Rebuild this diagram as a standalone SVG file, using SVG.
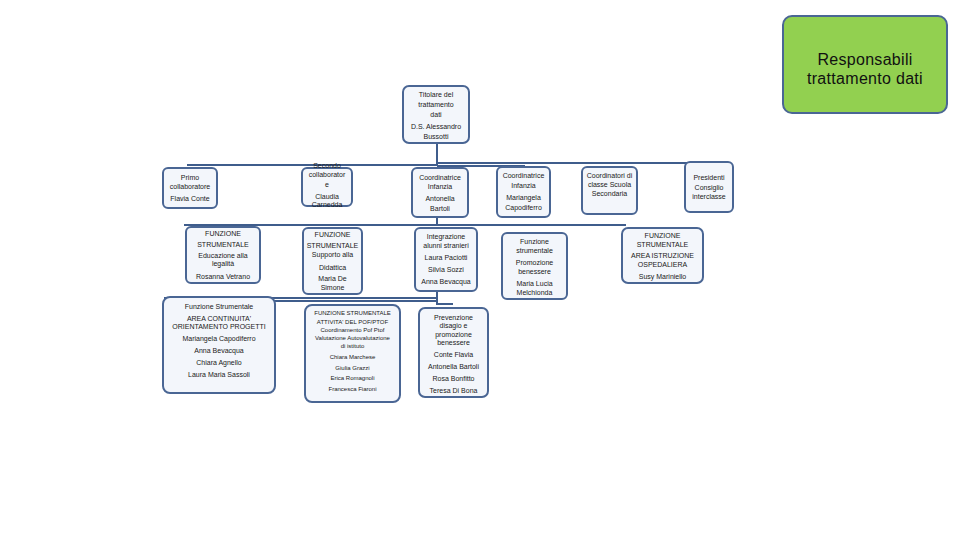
<svg xmlns="http://www.w3.org/2000/svg" width="960" height="540" viewBox="0 0 960 540">
<style>
.box{fill:#f3f6fb;stroke:#4a6694;stroke-width:2}
.t{font-family:"Liberation Sans",Arial,sans-serif;font-size:7px;fill:#1a1a1a;text-anchor:middle}
.s{font-size:6px}
.c{stroke:#3f5d8c;stroke-width:2;fill:none}
.g{fill:#92d050;stroke:#4a6694;stroke-width:2}
.gt{font-family:"Liberation Sans",Arial,sans-serif;font-size:16px;fill:#111;text-anchor:middle;letter-spacing:0.3px}
</style>
<rect width="960" height="540" fill="#fff"/>
<g id="connectors">
<path class="c" d="M437 143V165M187 165H437M437 163H710V163M437 166H525M437 213V225M184 225H626M437 291V305M164 298H437M270 301H437M437 304H453"/>
</g>
<g id="responsabili">
<rect class="g" x="783" y="16" width="164" height="97" rx="9"/>
<text class="gt" x="865" y="65">Responsabili</text>
<text class="gt" x="865" y="84">trattamento dati</text>
</g>
<g id="titolare">
<rect class="box" x="403" y="86" width="66" height="57" rx="6"/>
<text class="t"><tspan x="436" y="97">Titolare del</tspan><tspan x="436" y="107">trattamento</tspan><tspan x="436" y="117">dati</tspan><tspan x="436" y="129">D.S. Alessandro</tspan><tspan x="436" y="139">Bussotti</tspan></text>
</g>
<g id="primo">
<rect class="box" x="163" y="168" width="54" height="40" rx="5"/>
<text class="t"><tspan x="190" y="180">Primo</tspan><tspan x="190" y="189">collaboratore</tspan><tspan x="190" y="201">Flavia Conte</tspan></text>
</g>
<g id="secondo">
<rect class="box" x="302" y="168" width="50" height="38" rx="5"/>
<text class="t"><tspan x="327" y="168">Secondo</tspan><tspan x="327" y="177">collaborator</tspan><tspan x="327" y="187">e</tspan><tspan x="327" y="199">Claudia</tspan><tspan x="327" y="207">Carnedda</tspan></text>
</g>
<g id="antonella">
<rect class="box" x="412" y="168" width="56" height="49" rx="5"/>
<text class="t"><tspan x="440" y="180">Coordinatrice</tspan><tspan x="440" y="189">Infanzia</tspan><tspan x="440" y="201">Antonella</tspan><tspan x="440" y="211">Bartoli</tspan></text>
</g>
<g id="mariangela">
<rect class="box" x="497" y="167" width="53" height="50" rx="5"/>
<text class="t"><tspan x="523.5" y="178">Coordinatrice</tspan><tspan x="523.5" y="188">Infanzia</tspan><tspan x="523.5" y="200">Mariangela</tspan><tspan x="523.5" y="210">Capodiferro</tspan></text>
</g>
<g id="coordinatori">
<rect class="box" x="582" y="167" width="55" height="47" rx="5"/>
<text class="t"><tspan x="609.5" y="178">Coordinatori di</tspan><tspan x="609.5" y="187">classe Scuola</tspan><tspan x="609.5" y="196">Secondaria</tspan></text>
</g>
<g id="presidenti">
<rect class="box" x="685" y="162" width="48" height="50" rx="5"/>
<text class="t"><tspan x="709" y="180">Presidenti</tspan><tspan x="709" y="190">Consiglio</tspan><tspan x="709" y="199">interclasse</tspan></text>
</g>
<g id="educazione">
<rect class="box" x="186" y="227" width="74" height="56" rx="5"/>
<text class="t"><tspan x="223" y="236">FUNZIONE</tspan><tspan x="223" y="247">STRUMENTALE</tspan><tspan x="223" y="258">Educazione alla</tspan><tspan x="223" y="266">legalità</tspan><tspan x="223" y="279">Rosanna Vetrano</tspan></text>
</g>
<g id="supporto">
<rect class="box" x="303" y="228" width="59" height="66" rx="5"/>
<text class="t"><tspan x="332.5" y="237">FUNZIONE</tspan><tspan x="332.5" y="248">STRUMENTALE</tspan><tspan x="332.5" y="257">Supporto alla</tspan><tspan x="332.5" y="270">Didattica</tspan><tspan x="332.5" y="281">Maria De</tspan><tspan x="332.5" y="290">Simone</tspan></text>
</g>
<g id="integrazione">
<rect class="box" x="415" y="228" width="62" height="63" rx="5"/>
<text class="t"><tspan x="446" y="239">Integrazione</tspan><tspan x="446" y="248">alunni stranieri</tspan><tspan x="446" y="260">Laura Paciotti</tspan><tspan x="446" y="272">Silvia Sozzi</tspan><tspan x="446" y="284">Anna Bevacqua</tspan></text>
</g>
<g id="benessere">
<rect class="box" x="502" y="233" width="65" height="66" rx="5"/>
<text class="t"><tspan x="534.5" y="244">Funzione</tspan><tspan x="534.5" y="253">strumentale</tspan><tspan x="534.5" y="265">Promozione</tspan><tspan x="534.5" y="274">benessere</tspan><tspan x="534.5" y="286">Maria Lucia</tspan><tspan x="534.5" y="295">Melchionda</tspan></text>
</g>
<g id="ospedaliera">
<rect class="box" x="622" y="228" width="81" height="55" rx="6"/>
<text class="t"><tspan x="662.5" y="238">FUNZIONE</tspan><tspan x="662.5" y="247">STRUMENTALE</tspan><tspan x="662.5" y="258">AREA ISTRUZIONE</tspan><tspan x="662.5" y="267">OSPEDALIERA</tspan><tspan x="662.5" y="279">Susy Mariniello</tspan></text>
</g>
<g id="continuita">
<rect class="box" x="163" y="297" width="112" height="96" rx="7"/>
<text class="t"><tspan x="219" y="309">Funzione Strumentale</tspan><tspan x="219" y="321">AREA CONTINUITA'</tspan><tspan x="219" y="329">ORIENTAMENTO PROGETTI</tspan><tspan x="219" y="341">Mariangela Capodiferro</tspan><tspan x="219" y="353">Anna Bevacqua</tspan><tspan x="219" y="365">Chiara Agnello</tspan><tspan x="219" y="377">Laura Maria Sassoli</tspan></text>
</g>
<g id="pof">
<rect class="box" x="305" y="305" width="95" height="97" rx="7"/>
<text class="t s"><tspan x="352.5" y="315">FUNZIONE STRUMENTALE</tspan><tspan x="352.5" y="324">ATTIVITA' DEL POF/PTOF</tspan><tspan x="352.5" y="332">Coordinamento Pof Ptof</tspan><tspan x="352.5" y="340">Valutazione Autovalutazione</tspan><tspan x="352.5" y="348">di istituto</tspan><tspan x="352.5" y="359">Chiara Marchese</tspan><tspan x="352.5" y="370">Giulia Grazzi</tspan><tspan x="352.5" y="380">Erica Romagnoli</tspan><tspan x="352.5" y="391">Francesca Fiaroni</tspan></text>
</g>
<g id="prevenzione">
<rect class="box" x="419" y="308" width="69" height="89" rx="6"/>
<text class="t"><tspan x="453.5" y="320">Prevenzione</tspan><tspan x="453.5" y="328">disagio e</tspan><tspan x="453.5" y="337">promozione</tspan><tspan x="453.5" y="345">benessere</tspan><tspan x="453.5" y="357">Conte Flavia</tspan><tspan x="453.5" y="369">Antonella Bartoli</tspan><tspan x="453.5" y="381">Rosa Bonfitto</tspan><tspan x="453.5" y="393">Teresa Di Bona</tspan></text>
</g>
</svg>
